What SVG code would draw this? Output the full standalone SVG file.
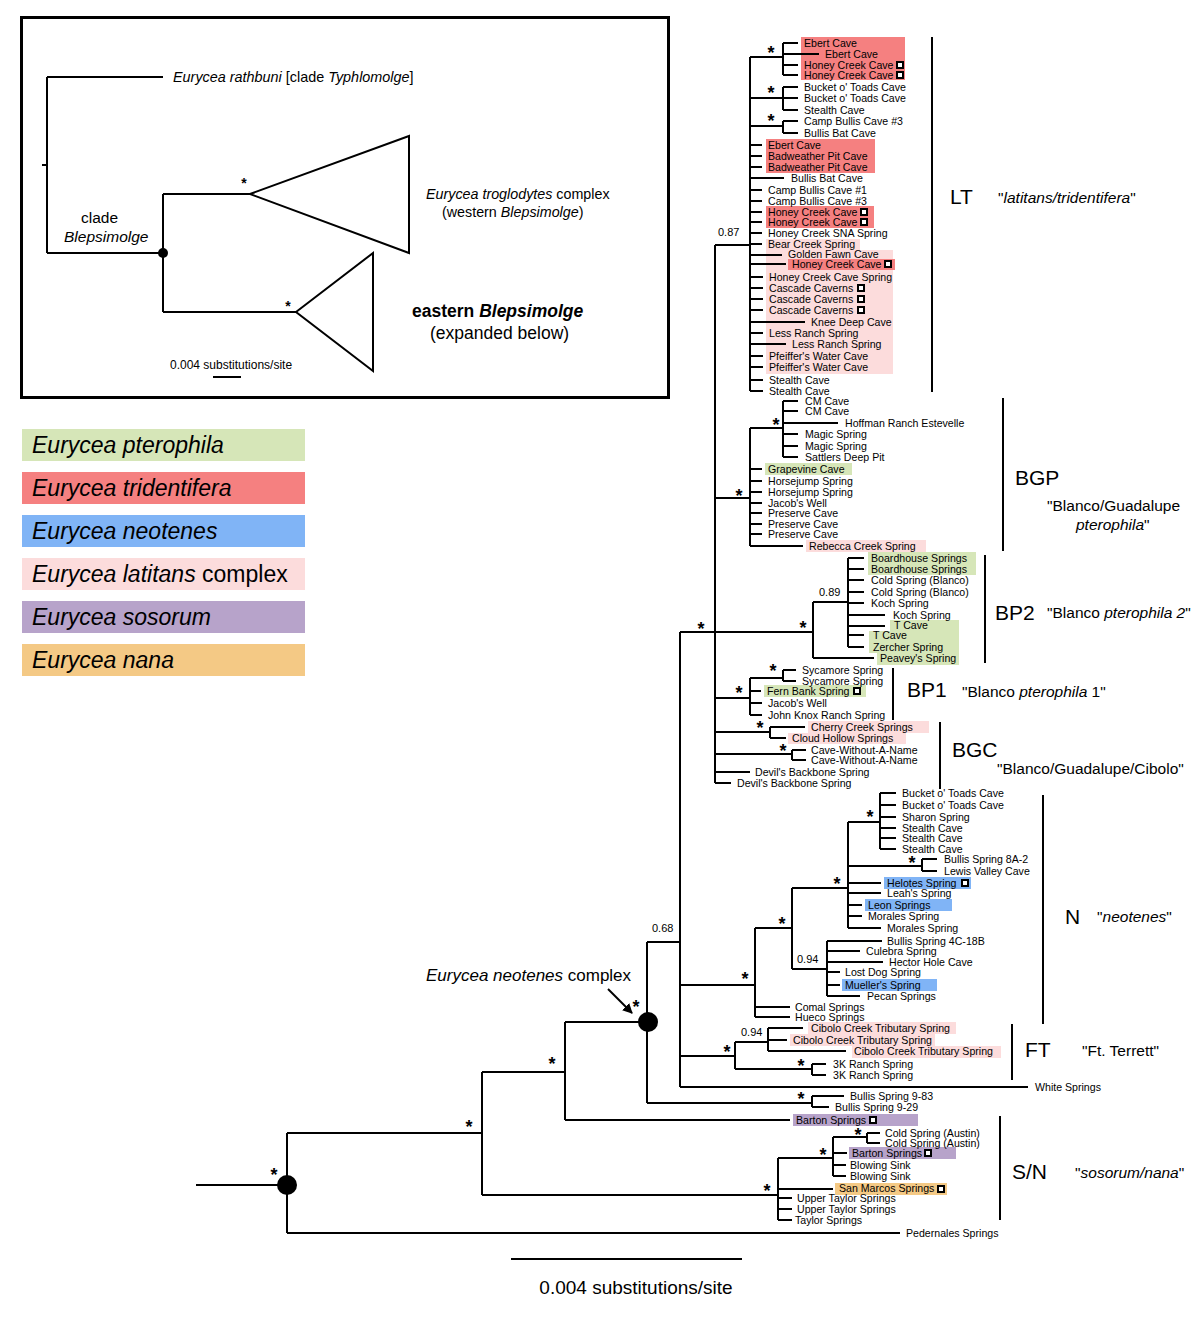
<svg xmlns="http://www.w3.org/2000/svg" xmlns:xlink="http://www.w3.org/1999/xlink" width="1200" height="1321" viewBox="0 0 1200 1321">
<style>
text{font-family:"Liberation Sans",Arial,sans-serif;fill:#000}
.t{font-size:10.6px}
.s{font-size:18px;font-weight:bold;text-anchor:middle}
.si{font-size:14px;font-weight:bold;text-anchor:middle}
.sup{font-size:11px}
.cl{font-size:21px}
.q{font-size:15.5px}
.lg{font-size:23px}
.i{font-style:italic}
.br{stroke:#000;stroke-width:2;fill:none}
.tr{stroke:#000;stroke-width:2;fill:none}
.red{fill:#f58080}
.pink{fill:#fcdcdc}
.green{fill:#d6e6b8}
.blue{fill:#80b4f6}
.purple{fill:#b7a3ca}
.orange{fill:#f4c985}
</style>
<defs>
<rect id="sq" x="-3" y="-3" width="6" height="6" fill="#fff" stroke="#000" stroke-width="2"/>
<marker id="ah" viewBox="0 0 10 10" refX="9" refY="5" markerWidth="5" markerHeight="5" orient="auto"><path d="M0,0 L10,5 L0,10 Z" fill="#000"/></marker>
</defs>
<rect width="1200" height="1321" fill="#fff"/>

<!-- Inset -->
<g id="inset">
<rect x="21.5" y="17.5" width="647" height="380" fill="none" stroke="#000" stroke-width="3"/>
<path class="tr" d="M42,165 H47 M47,77 V253 M47,77 H163 M47,253 H163 M163,194 V312 M163,194 H250 M163,312 H296"/>
<path class="tr" d="M250,194 L409,136 L409,253 Z M296,312 L373,253 L373,371 Z"/>
<circle cx="163" cy="253" r="5" fill="#000"/>
<text x="173" y="82" style="font-size:14.4px"><tspan class="i">Eurycea rathbuni</tspan> [clade <tspan class="i">Typhlomolge</tspan>]</text>
<text x="426" y="199" style="font-size:14.3px"><tspan class="i">Eurycea troglodytes</tspan> complex</text>
<text x="442" y="217" style="font-size:14.3px">(western <tspan class="i">Blepsimolge</tspan>)</text>
<text x="81" y="223" style="font-size:15.5px">clade</text>
<text x="64" y="242" style="font-size:15.5px" class="i">Blepsimolge</text>
<text x="412" y="317" style="font-size:17.5px;font-weight:bold">eastern <tspan class="i">Blepsimolge</tspan></text>
<text x="430" y="339" style="font-size:17.5px">(expanded below)</text>
<text x="170" y="369" style="font-size:12px">0.004 substitutions/site</text>
<path class="tr" d="M213,377 H241"/>
<text class="si" x="244" y="188">*</text>
<text class="si" x="288" y="311">*</text>
</g>

<!-- Legend -->
<g id="legend">
<rect class="green" x="22" y="429" width="283" height="32"/>
<rect class="red" x="22" y="472" width="283" height="32"/>
<rect class="blue" x="22" y="515" width="283" height="32"/>
<rect class="pink" x="22" y="558" width="283" height="32"/>
<rect class="purple" x="22" y="601" width="283" height="32"/>
<rect class="orange" x="22" y="644" width="283" height="32"/>
<text class="lg i" x="32" y="453">Eurycea pterophila</text>
<text class="lg i" x="32" y="496">Eurycea tridentifera</text>
<text class="lg i" x="32" y="539">Eurycea neotenes</text>
<text class="lg" x="32" y="582"><tspan class="i">Eurycea latitans</tspan> complex</text>
<text class="lg i" x="32" y="625">Eurycea sosorum</text>
<text class="lg i" x="32" y="668">Eurycea nana</text>
</g>

<!-- Highlights -->
<g id="highlights">
<rect class="red" x="801" y="37" width="104" height="43"/>
<rect class="red" x="766" y="139" width="109" height="34"/>
<rect class="red" x="766" y="206" width="108" height="22"/>
<path class="pink" d="M766,239 H860 V250 H893 V374 H766 Z"/>
<rect class="red" x="788" y="259" width="107" height="11"/>
<rect class="green" x="765" y="463" width="87" height="12"/>
<rect class="pink" x="806" y="540" width="120" height="12"/>
<rect class="green" x="868" y="552" width="108" height="23"/>
<path class="green" d="M890,620 H959 V665 H877 V653 H869 V631 H890 Z"/>
<rect class="green" x="764" y="685" width="102" height="12"/>
<rect class="pink" x="808" y="721" width="121" height="12"/>
<rect class="pink" x="788" y="733" width="118" height="11"/>
<rect class="blue" x="884" y="877" width="87" height="12"/>
<rect class="blue" x="865" y="899" width="87" height="12"/>
<rect class="blue" x="842" y="979" width="95" height="12"/>
<rect class="pink" x="808" y="1022" width="148" height="12"/>
<rect class="pink" x="790" y="1034" width="145" height="12"/>
<rect class="pink" x="852" y="1046" width="149" height="12"/>
<rect class="purple" x="793" y="1114" width="125" height="12"/>
<rect class="purple" x="849" y="1147" width="107" height="12"/>
<rect class="orange" x="835" y="1183" width="112" height="12"/>
</g>

<!-- Connectors (tree branches) -->
<g id="connectors">
<path class="tr" d="M196,1185 H287 M287,1133 V1233 M287,1133 H482 M287,1233 H900
M482,1072 V1195 M482,1072 H565 M482,1195 H778
M565,1022 V1120 M565,1022 H647 M565,1120 H790
M647,942 V1103 M647,942 H680 M647,1103 H812
M680,632 V1087 M680,632 H813 M680,985 H755 M680,1056 H735 M680,1087 H1028
M715,245 V783 M715,245 H750 M715,498 H750 M715,698 H750 M715,732 H770 M715,754 H792 M715,772 H750 M715,783 H731"/>
<path class="tr" d="M750,57 V391 M750,57 H783 M783,43 V75 M783,43 H798 M783,54 H819 M783,65 H798 M783,75 H798
M750,98 H783 M783,87 V110 M783,87 H798 M783,98 H798 M783,110 H798
M750,126 H783 M783,121 V133 M783,121 H798 M783,133 H798
M750,145 H762 M750,156 H762 M750,167 H762 M750,178 H784 M750,190 H762 M750,201 H762 M750,212 H762 M750,222 H762
M750,233 H762 M750,244 H762 M750,255 H782 M750,264 H786 M750,277 H763 M750,288 H763 M750,299 H763 M750,310 H763
M750,322 H805 M750,333 H763 M750,344 H786 M750,356 H763 M750,367 H763 M750,380 H763 M750,391 H763"/>
<path class="tr" d="M750,428 V546 M750,428 H783 M783,401 V457 M783,401 H798 M783,411 H798 M783,423 H838 M783,434 H798 M783,446 H798 M783,457 H798
M750,469 H762 M750,481 H762 M750,492 H762 M750,503 H762 M750,513 H762 M750,524 H762 M750,534 H762 M750,546 H803"/>
<path class="tr" d="M813,602 V658 M813,602 H848 M848,558 V647 M848,558 H864 M848,569 H864 M848,580 H864 M848,592 H864 M848,603 H864 M848,615 H885 M848,626 H885 M848,635 H864 M848,647 H864 M813,658 H874"/>
<path class="tr" d="M750,678 V715 M750,678 H783 M783,670 V681 M783,670 H796 M783,681 H796 M750,691 H761 M750,703 H762 M750,715 H762"/>
<path class="tr" d="M770,727 V738 M770,727 H805 M770,738 H786 M792,750 V760 M792,750 H806 M792,760 H806"/>
<path class="tr" d="M755,928 V1017 M755,928 H792 M755,1007 H790 M755,1017 H790
M792,888 V969 M792,888 H848 M792,969 H827
M848,822 V928 M848,822 H880 M880,793 V849 M880,793 H896 M880,805 H896 M880,817 H896 M880,828 H896 M880,838 H896 M880,849 H896
M848,866 H922 M922,859 V871 M922,859 H937 M922,871 H937
M848,883 H881 M848,893 H881 M848,905 H862 M848,916 H862 M848,928 H881
M827,941 V996 M827,941 H882 M827,951 H860 M827,962 H883 M827,972 H840 M827,985 H840 M827,996 H860"/>
<path class="tr" d="M735,1042 V1069 M735,1042 H768 M768,1028 V1051 M768,1028 H803 M768,1040 H787 M768,1051 H846 M735,1069 H812 M812,1064 V1075 M812,1064 H826 M812,1075 H826"/>
<path class="tr" d="M812,1096 V1107 M812,1096 H844 M812,1107 H829"/>
<path class="tr" d="M778,1158 V1220 M778,1158 H833 M833,1137 V1176 M833,1137 H867 M867,1133 V1143 M867,1133 H880 M867,1143 H880 M833,1153 H847 M833,1165 H846 M833,1176 H846 M778,1189 H833 M778,1198 H792 M778,1209 H792 M778,1220 H792"/>
<circle cx="287" cy="1185" r="10" fill="#000"/>
<circle cx="648" cy="1022" r="10" fill="#000"/>
<path d="M608,989 L632,1013" stroke="#000" stroke-width="2" fill="none" marker-end="url(#ah)"/>
</g>

<!-- Support values -->
<g id="support">
<text class="s" x="771" y="59">*</text>
<text class="s" x="771" y="99">*</text>
<text class="s" x="771" y="127">*</text>
<text class="s" x="776" y="431">*</text>
<text class="s" x="739" y="502">*</text>
<text class="s" x="701" y="635">*</text>
<text class="s" x="803" y="634">*</text>
<text class="s" x="773" y="677">*</text>
<text class="s" x="739" y="699">*</text>
<text class="s" x="760" y="734">*</text>
<text class="s" x="783" y="757">*</text>
<text class="s" x="870" y="823">*</text>
<text class="s" x="912" y="869">*</text>
<text class="s" x="837" y="890">*</text>
<text class="s" x="782" y="930">*</text>
<text class="s" x="745" y="985">*</text>
<text class="s" x="727" y="1058">*</text>
<text class="s" x="801" y="1072">*</text>
<text class="s" x="801" y="1105">*</text>
<text class="s" x="858" y="1141">*</text>
<text class="s" x="823" y="1161">*</text>
<text class="s" x="767" y="1197">*</text>
<text class="s" x="636" y="1013">*</text>
<text class="s" x="552" y="1070">*</text>
<text class="s" x="469" y="1133">*</text>
<text class="s" x="274" y="1181">*</text>
<text class="sup" x="718" y="236">0.87</text>
<text class="sup" x="819" y="596">0.89</text>
<text class="sup" x="797" y="963">0.94</text>
<text class="sup" x="741" y="1036">0.94</text>
<text class="sup" x="652" y="932">0.68</text>
</g>

<g id="label-neotenes-complex">
<text x="426" y="981" style="font-size:17px"><tspan class="i">Eurycea neotenes</tspan> complex</text>
</g>

<!-- LT tips -->
<g id="clade-LT">
<text class="t" x="804" y="47">Ebert Cave</text>
<text class="t" x="825" y="58">Ebert Cave</text>
<text class="t" x="804" y="69">Honey Creek Cave</text>
<text class="t" x="804" y="79">Honey Creek Cave</text>
<text class="t" x="804" y="91">Bucket o' Toads Cave</text>
<text class="t" x="804" y="102">Bucket o' Toads Cave</text>
<text class="t" x="804" y="114">Stealth Cave</text>
<text class="t" x="804" y="125">Camp Bullis Cave #3</text>
<text class="t" x="804" y="137">Bullis Bat Cave</text>
<text class="t" x="768" y="149">Ebert Cave</text>
<text class="t" x="768" y="160">Badweather Pit Cave</text>
<text class="t" x="768" y="171">Badweather Pit Cave</text>
<text class="t" x="791" y="182">Bullis Bat Cave</text>
<text class="t" x="768" y="194">Camp Bullis Cave #1</text>
<text class="t" x="768" y="205">Camp Bullis Cave #3</text>
<text class="t" x="768" y="216">Honey Creek Cave</text>
<text class="t" x="768" y="226">Honey Creek Cave</text>
<text class="t" x="768" y="237">Honey Creek SNA Spring</text>
<text class="t" x="768" y="248">Bear Creek Spring</text>
<text class="t" x="788" y="258">Golden Fawn Cave</text>
<text class="t" x="792" y="268">Honey Creek Cave</text>
<text class="t" x="769" y="281">Honey Creek Cave Spring</text>
<text class="t" x="769" y="292">Cascade Caverns</text>
<text class="t" x="769" y="303">Cascade Caverns</text>
<text class="t" x="769" y="314">Cascade Caverns</text>
<text class="t" x="811" y="326">Knee Deep Cave</text>
<text class="t" x="769" y="337">Less Ranch Spring</text>
<text class="t" x="792" y="348">Less Ranch Spring</text>
<text class="t" x="769" y="360">Pfeiffer's Water Cave</text>
<text class="t" x="769" y="371">Pfeiffer's Water Cave</text>
<text class="t" x="769" y="384">Stealth Cave</text>
<text class="t" x="769" y="395">Stealth Cave</text>
<use xlink:href="#sq" href="#sq" x="900" y="65"/>
<use xlink:href="#sq" href="#sq" x="900" y="75"/>
<use xlink:href="#sq" href="#sq" x="864" y="212"/>
<use xlink:href="#sq" href="#sq" x="864" y="222"/>
<use xlink:href="#sq" href="#sq" x="888" y="264"/>
<use xlink:href="#sq" href="#sq" x="861" y="288"/>
<use xlink:href="#sq" href="#sq" x="861" y="299"/>
<use xlink:href="#sq" href="#sq" x="861" y="310"/>
</g>

<g id="clade-BGP">
<text class="t" x="805" y="405">CM Cave</text>
<text class="t" x="805" y="415">CM Cave</text>
<text class="t" x="845" y="427">Hoffman Ranch Estevelle</text>
<text class="t" x="805" y="438">Magic Spring</text>
<text class="t" x="805" y="450">Magic Spring</text>
<text class="t" x="805" y="461">Sattlers Deep Pit</text>
<text class="t" x="768" y="473">Grapevine Cave</text>
<text class="t" x="768" y="485">Horsejump Spring</text>
<text class="t" x="768" y="496">Horsejump Spring</text>
<text class="t" x="768" y="507">Jacob's Well</text>
<text class="t" x="768" y="517">Preserve Cave</text>
<text class="t" x="768" y="528">Preserve Cave</text>
<text class="t" x="768" y="538">Preserve Cave</text>
<text class="t" x="809" y="550">Rebecca Creek Spring</text>
</g>

<g id="clade-BP2">
<text class="t" x="871" y="562">Boardhouse Springs</text>
<text class="t" x="871" y="573">Boardhouse Springs</text>
<text class="t" x="871" y="584">Cold Spring (Blanco)</text>
<text class="t" x="871" y="596">Cold Spring (Blanco)</text>
<text class="t" x="871" y="607">Koch Spring</text>
<text class="t" x="893" y="619">Koch Spring</text>
<text class="t" x="894" y="629">T Cave</text>
<text class="t" x="873" y="639">T Cave</text>
<text class="t" x="873" y="651">Zercher Spring</text>
<text class="t" x="880" y="662">Peavey's Spring</text>
</g>

<g id="clade-BP1">
<text class="t" x="802" y="674">Sycamore Spring</text>
<text class="t" x="802" y="685">Sycamore Spring</text>
<text class="t" x="767" y="695">Fern Bank Spring</text>
<text class="t" x="768" y="707">Jacob's Well</text>
<text class="t" x="768" y="719">John Knox Ranch Spring</text>
<use xlink:href="#sq" href="#sq" x="857" y="691"/>
</g>

<g id="clade-BGC">
<text class="t" x="811" y="731">Cherry Creek Springs</text>
<text class="t" x="792" y="742">Cloud Hollow Springs</text>
<text class="t" x="811" y="754">Cave-Without-A-Name</text>
<text class="t" x="811" y="764">Cave-Without-A-Name</text>
<text class="t" x="755" y="776">Devil's Backbone Spring</text>
<text class="t" x="737" y="787">Devil's Backbone Spring</text>
</g>

<g id="clade-N">
<text class="t" x="902" y="797">Bucket o' Toads Cave</text>
<text class="t" x="902" y="809">Bucket o' Toads Cave</text>
<text class="t" x="902" y="821">Sharon Spring</text>
<text class="t" x="902" y="832">Stealth Cave</text>
<text class="t" x="902" y="842">Stealth Cave</text>
<text class="t" x="902" y="853">Stealth Cave</text>
<text class="t" x="944" y="863">Bullis Spring 8A-2</text>
<text class="t" x="944" y="875">Lewis Valley Cave</text>
<text class="t" x="887" y="887">Helotes Spring</text>
<text class="t" x="887" y="897">Leah's Spring</text>
<text class="t" x="868" y="909">Leon Springs</text>
<text class="t" x="868" y="920">Morales Spring</text>
<text class="t" x="887" y="932">Morales Spring</text>
<text class="t" x="887" y="945">Bullis Spring 4C-18B</text>
<text class="t" x="866" y="955">Culebra Spring</text>
<text class="t" x="889" y="966">Hector Hole Cave</text>
<text class="t" x="845" y="976">Lost Dog Spring</text>
<text class="t" x="845" y="989">Mueller's Spring</text>
<text class="t" x="867" y="1000">Pecan Springs</text>
<text class="t" x="795" y="1011">Comal Springs</text>
<text class="t" x="795" y="1021">Hueco Springs</text>
<use xlink:href="#sq" href="#sq" x="965" y="883"/>
</g>

<g id="clade-FT">
<text class="t" x="811" y="1032">Cibolo Creek Tributary Spring</text>
<text class="t" x="793" y="1044">Cibolo Creek Tributary Spring</text>
<text class="t" x="854" y="1055">Cibolo Creek Tributary Spring</text>
<text class="t" x="833" y="1068">3K Ranch Spring</text>
<text class="t" x="833" y="1079">3K Ranch Spring</text>
</g>

<g id="tip-white">
<text class="t" x="1035" y="1091">White Springs</text>
</g>
<g id="clade-bullis">
<text class="t" x="850" y="1100">Bullis Spring 9-83</text>
<text class="t" x="835" y="1111">Bullis Spring 9-29</text>
</g>
<g id="tip-barton">
<text class="t" x="796" y="1124">Barton Springs</text>
<use xlink:href="#sq" href="#sq" x="873" y="1120"/>
</g>

<g id="clade-SN">
<text class="t" x="885" y="1137">Cold Spring (Austin)</text>
<text class="t" x="885" y="1147">Cold Spring (Austin)</text>
<text class="t" x="852" y="1157">Barton Springs</text>
<text class="t" x="850" y="1169">Blowing Sink</text>
<text class="t" x="850" y="1180">Blowing Sink</text>
<text class="t" x="839" y="1192">San Marcos Springs</text>
<text class="t" x="797" y="1202">Upper Taylor Springs</text>
<text class="t" x="797" y="1213">Upper Taylor Springs</text>
<text class="t" x="795" y="1224">Taylor Springs</text>
<use xlink:href="#sq" href="#sq" x="928" y="1153"/>
<use xlink:href="#sq" href="#sq" x="941" y="1189"/>
</g>

<g id="tip-pedernales">
<text class="t" x="906" y="1237">Pedernales Springs</text>
</g>

<!-- Clade brackets and names -->
<g id="brackets">
<path class="br" d="M932,37 V392 M1003,398 V551 M985,555 V663 M893,668 V720 M940,722 V789 M1043,795 V1024 M1012,1024 V1080 M1000,1116 V1220"/>
<text class="cl" x="950" y="204">LT</text>
<text class="q" x="998" y="203">"<tspan class="i">latitans/tridentifera</tspan>"</text>
<text class="cl" x="1015" y="485">BGP</text>
<text class="q" x="1047" y="511">"Blanco/Guadalupe</text>
<text class="q" x="1076" y="530"><tspan class="i">pterophila</tspan>"</text>
<text class="cl" x="995" y="620">BP2</text>
<text class="q" x="1047" y="618">"Blanco <tspan class="i">pterophila 2</tspan>"</text>
<text class="cl" x="907" y="697">BP1</text>
<text class="q" x="962" y="697">"Blanco <tspan class="i">pterophila</tspan> 1"</text>
<text class="cl" x="952" y="757">BGC</text>
<text class="q" x="997" y="774">"Blanco/Guadalupe/Cibolo"</text>
<text class="cl" x="1065" y="924">N</text>
<text class="q" x="1097" y="922">"<tspan class="i">neotenes</tspan>"</text>
<text class="cl" x="1025" y="1057">FT</text>
<text class="q" x="1082" y="1056">"Ft. Terrett"</text>
<text class="cl" x="1012" y="1179">S/N</text>
<text class="q" x="1075" y="1178">"<tspan class="i">sosorum/nana</tspan>"</text>
</g>

<g id="scale">
<path class="tr" d="M511,1259 H742"/>
<text x="636" y="1294" style="font-size:19px;text-anchor:middle">0.004 substitutions/site</text>
</g>
</svg>
